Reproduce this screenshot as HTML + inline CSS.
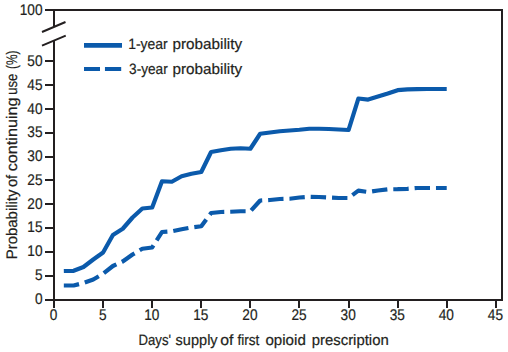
<!DOCTYPE html>
<html><head><meta charset="utf-8"><style>
html,body{margin:0;padding:0;background:#fff;}
body{width:508px;height:352px;overflow:hidden;}
svg{display:block;}
text{font-family:"Liberation Sans",sans-serif;fill:#231f20;text-rendering:geometricPrecision;stroke:#231f20;stroke-width:0.2px;}
</style></head><body>
<svg width="508" height="352" viewBox="0 0 508 352">
<g stroke="#231f20" stroke-width="2" fill="none" stroke-linecap="butt">
<path d="M45,10 H502 V300 H54 V40 M54,26.5 V10"/>
<path d="M42,32 L65.5,22 M42,45.6 L65.75,35.6"/>
<line x1="45" y1="300" x2="54" y2="300"/><line x1="45" y1="276" x2="54" y2="276"/><line x1="45" y1="252" x2="54" y2="252"/><line x1="45" y1="228" x2="54" y2="228"/><line x1="45" y1="204" x2="54" y2="204"/><line x1="45" y1="180" x2="54" y2="180"/><line x1="45" y1="157" x2="54" y2="157"/><line x1="45" y1="133" x2="54" y2="133"/><line x1="45" y1="109" x2="54" y2="109"/><line x1="45" y1="85" x2="54" y2="85"/><line x1="45" y1="61" x2="54" y2="61"/><line x1="54" y1="300" x2="54" y2="308"/><line x1="103" y1="300" x2="103" y2="308"/><line x1="152" y1="300" x2="152" y2="308"/><line x1="201" y1="300" x2="201" y2="308"/><line x1="250" y1="300" x2="250" y2="308"/><line x1="299" y1="300" x2="299" y2="308"/><line x1="349" y1="300" x2="349" y2="308"/><line x1="398" y1="300" x2="398" y2="308"/><line x1="447" y1="300" x2="447" y2="308"/><line x1="496" y1="300" x2="496" y2="308"/>
</g>
<g font-size="15">
<text transform="translate(42.5,303.60) scale(0.91,1.03)" text-anchor="end">0</text><text transform="translate(42.5,279.86) scale(0.91,1.03)" text-anchor="end">5</text><text transform="translate(42.5,256.11) scale(0.91,1.03)" text-anchor="end">10</text><text transform="translate(42.5,232.37) scale(0.91,1.03)" text-anchor="end">15</text><text transform="translate(42.5,208.62) scale(0.91,1.03)" text-anchor="end">20</text><text transform="translate(42.5,184.88) scale(0.91,1.03)" text-anchor="end">25</text><text transform="translate(42.5,161.13) scale(0.91,1.03)" text-anchor="end">30</text><text transform="translate(42.5,137.39) scale(0.91,1.03)" text-anchor="end">35</text><text transform="translate(42.5,113.64) scale(0.91,1.03)" text-anchor="end">40</text><text transform="translate(42.5,89.90) scale(0.91,1.03)" text-anchor="end">45</text><text transform="translate(42.5,66.15) scale(0.91,1.03)" text-anchor="end">50</text><text transform="translate(53.60,319.8) scale(0.91,1.03)" text-anchor="middle">0</text><text transform="translate(102.69,319.8) scale(0.91,1.03)" text-anchor="middle">5</text><text transform="translate(151.78,319.8) scale(0.91,1.03)" text-anchor="middle">10</text><text transform="translate(200.87,319.8) scale(0.91,1.03)" text-anchor="middle">15</text><text transform="translate(249.96,319.8) scale(0.91,1.03)" text-anchor="middle">20</text><text transform="translate(299.05,319.8) scale(0.91,1.03)" text-anchor="middle">25</text><text transform="translate(348.14,319.8) scale(0.91,1.03)" text-anchor="middle">30</text><text transform="translate(397.23,319.8) scale(0.91,1.03)" text-anchor="middle">35</text><text transform="translate(446.32,319.8) scale(0.91,1.03)" text-anchor="middle">40</text><text transform="translate(495.41,319.8) scale(0.91,1.03)" text-anchor="middle">45</text><text transform="translate(42.5,14.7) scale(0.91,1.03)" text-anchor="end">100</text>
</g>
<g font-size="15">
<g transform="translate(0,344.6) scale(1,1.0)"><text x="138.5" y="0" textLength="32.54" lengthAdjust="spacingAndGlyphs">Days&#39;</text><text x="175.6" y="0" textLength="42.05" lengthAdjust="spacingAndGlyphs">supply</text><text x="220.2" y="0" textLength="13.19" lengthAdjust="spacingAndGlyphs">of</text><text x="237.4" y="0" textLength="21.95" lengthAdjust="spacingAndGlyphs">first</text><text x="265.4" y="0" textLength="40.45" lengthAdjust="spacingAndGlyphs">opioid</text><text x="311.7" y="0" textLength="77.04" lengthAdjust="spacingAndGlyphs">prescription</text></g>
<g transform="translate(0,48.8) scale(1,1.0)"><text x="128.17" y="0" textLength="39.59" lengthAdjust="spacingAndGlyphs">1-year</text><text x="172.5" y="0" textLength="69.58" lengthAdjust="spacingAndGlyphs">probability</text></g>
<g transform="translate(0,74.4) scale(1,1.0)"><text x="129.1" y="0" textLength="38.67" lengthAdjust="spacingAndGlyphs">3-year</text><text x="172.5" y="0" textLength="69.58" lengthAdjust="spacingAndGlyphs">probability</text></g>
<g transform="translate(16.9,0) rotate(-90) scale(1,1.02)"><text x="-259.25" y="0" textLength="69.7" lengthAdjust="spacingAndGlyphs">Probability</text><text x="-187.1" y="0" textLength="12.13" lengthAdjust="spacingAndGlyphs">of</text><text x="-171.25" y="0" textLength="73.77" lengthAdjust="spacingAndGlyphs">continuing</text><text x="-94.75" y="0" textLength="21.01" lengthAdjust="spacingAndGlyphs">use</text><text x="-68.9" y="0" textLength="18.41" lengthAdjust="spacingAndGlyphs">(%)</text></g>
</g>
<g fill="none" stroke="#0b5aab" stroke-width="4.2" stroke-linejoin="round">
<path stroke-width="4.9" d="M84,45.4 H122"/>
<path stroke-width="4.1" d="M84,69 H100 M104.95,69 H121.2"/>
<polyline points="63.82,271.00 73.64,270.80 83.45,267.00 93.27,259.50 103.09,252.50 112.91,235.00 122.73,228.75 132.54,217.50 142.36,208.50 152.18,207.50 162.00,181.25 171.82,181.75 181.63,176.25 191.45,173.75 201.27,172.00 211.09,152.00 220.91,150.25 230.72,148.75 240.54,148.25 250.36,148.75 260.18,133.75 270.00,132.50 279.81,131.25 289.63,130.50 299.45,129.75 309.27,128.75 319.09,128.75 328.90,129.00 338.72,129.50 348.54,130.00 358.36,98.50 368.18,99.60 377.99,96.60 387.81,93.60 397.63,90.20 407.45,89.40 417.27,89.10 427.08,89.00 436.90,89.00 446.72,89.00"/>
<polyline points="63.82,285.50 73.64,285.50 83.45,283.00 93.27,279.50 103.09,273.75 112.91,266.00 122.73,261.50 132.54,254.50 142.36,248.75 152.18,247.50 162.00,232.00 171.82,231.25 181.63,229.25 191.45,227.50 201.27,226.25 211.09,213.00 220.91,212.00 230.72,211.75 240.54,211.25 250.36,211.25 260.18,200.50 270.00,200.00 279.81,199.00 289.63,198.75 299.45,197.50 309.27,196.75 319.09,197.00 328.90,197.50 338.72,198.00 348.54,198.00 358.36,190.60 368.18,192.00 377.99,190.50 387.81,189.30 397.63,189.20 407.45,188.80 417.27,188.00 427.08,188.00 436.90,188.00 446.72,188.00" stroke-dasharray="15.4 5.95"/>
</g>
</svg>
</body></html>
